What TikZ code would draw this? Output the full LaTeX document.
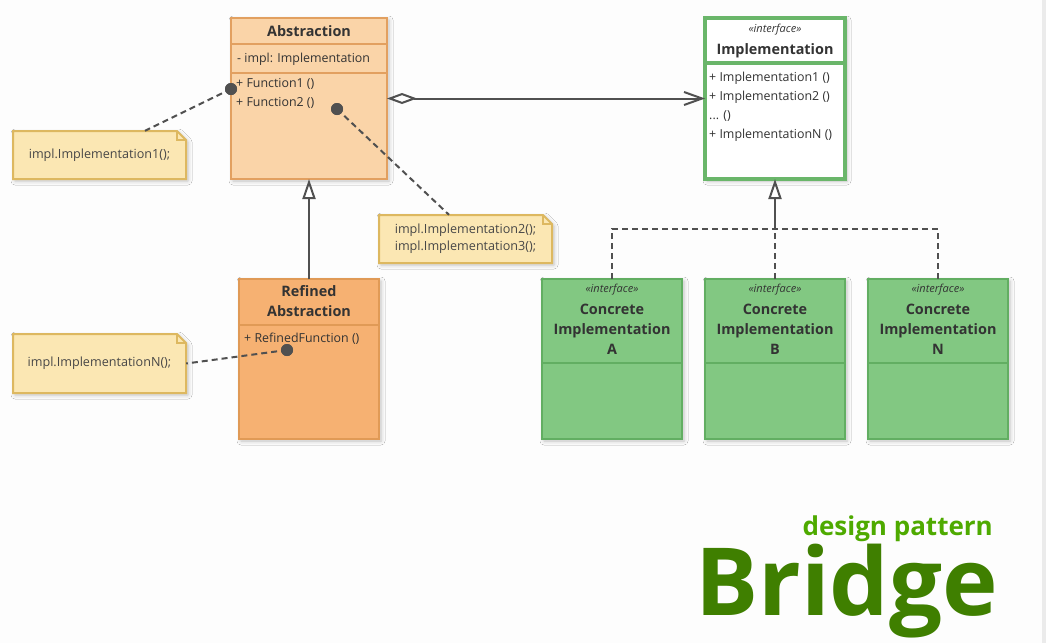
\documentclass[tikz,border=0pt]{standalone}
\usepackage{fontspec}
\setmainfont{Open Sans}
\usetikzlibrary{arrows.meta,shadows.blur,calc}
\definecolor{bgcol}{HTML}{FDFDFD}
\definecolor{edgecol}{HTML}{EBEBEB}
\definecolor{absfill}{HTML}{FAD4A8}
\definecolor{absline}{HTML}{E2A060}
\definecolor{reffill}{HTML}{F6B172}
\definecolor{refline}{HTML}{E09A56}
\definecolor{notefill}{HTML}{FBE7B3}
\definecolor{noteline}{HTML}{DDB860}
\definecolor{grfill}{HTML}{82C882}
\definecolor{grline}{HTML}{62AE62}
\definecolor{implline}{HTML}{6AB66A}
\definecolor{conncol}{HTML}{505050}
\definecolor{txtcol}{HTML}{333333}
\definecolor{dpcol}{HTML}{4EAA00}
\definecolor{brcol}{HTML}{3F7F00}
\newcommand\umlnote[6]{%
  \path[notebody] (#2,#3) -- ({#2+#4-9},#3) -- ({#2+#4},{#3+9}) -- ({#2+#4},{#3+#5}) -- (#2,{#3+#5}) -- cycle;
  \draw[noteborder] ({#2+#4-9},#3) -- ({#2+#4-9},{#3+9}) -- ({#2+#4},{#3+9});
  \node[notetxt, minimum width=#4pt, minimum height=#5pt] (#1) at ({#2+#4/2},{#3+#5/2}) {#6};
}
\begin{document}
\begin{tikzpicture}[x=1pt,y=-1pt,
  shade/.style={blur shadow={shadow xshift=2pt, shadow yshift=-2pt, shadow blur radius=4pt, shadow opacity=25}},
  box/.style={rectangle, anchor=north west, inner sep=0pt, outer sep=0pt, line width=2pt, shade},
  absbox/.style={box, fill=absfill, draw=absline},
  refbox/.style={box, fill=reffill, draw=refline},
  grbox/.style={box, fill=grfill, draw=grline},
  implbox/.style={box, fill=white, draw=implline, line width=3.5pt},
  notebody/.style={fill=notefill, draw=noteline, line width=2pt, shade},
  noteborder/.style={draw=noteline, line width=1.5pt},
  notetxt/.style={inner sep=0pt, font=\fontsize{12.6}{17}\selectfont, text=txtcol!90, align=center},
  txt/.style={inner sep=0pt, anchor=base west, font=\fontsize{12.4}{14}\selectfont, text=txtcol},
  head/.style={inner sep=0pt, anchor=base, font=\fontsize{14.4}{16}\selectfont\bfseries, text=txtcol},
  stereo/.style={inner sep=0pt, anchor=base, font=\fontsize{11}{12}\selectfont\itshape, text=txtcol},
  dot/.style={circle, fill=conncol, inner sep=0pt, minimum size=12pt},
  conn/.style={draw=conncol, line width=2pt},
  dashconn/.style={draw=conncol, line width=2pt, dash pattern=on 6pt off 4pt},
]
\useasboundingbox (0,0) rectangle (1046,643);
\fill[bgcol] (0,0) rectangle (1046,643);
\fill[edgecol] (1042,0) rectangle (1046,643);

% Abstraction
\node[absbox, minimum width=156pt, minimum height=161pt] (abs) at (231,18) {};
\draw[draw=absline, line width=2pt] (231,44) -- (387,44);
\draw[draw=absline, line width=2pt] (231,73) -- (387,73);
\node[head] (abshead) at (309,36) {Abstraction};
\node[txt] (absattr) at (237,62) {- impl: Implementation};
\node[txt] (absf1) at (236,87) {+ Function1 ()};
\node[txt] (absf2) at (236,106) {+ Function2 ()};

% Refined Abstraction
\node[refbox, minimum width=140pt, minimum height=160pt] (ref) at (239,279) {};
\draw[draw=refline, line width=2pt] (239,325) -- (379,325);
\node[head] (refh1) at (309,296) {Refined};
\node[head] (refh2) at (309,316) {Abstraction};
\node[txt] (reff) at (244,342) {+ RefinedFunction ()};

% Implementation interface
\node[implbox, minimum width=140pt, minimum height=161pt] (impl) at (705,18) {};
\draw[draw=implline, line width=3.5pt] (705,63) -- (845,63);
\node[stereo] (implst) at (775,32) {«interface»};
\node[head] (implh) at (775,54) {Implementation};
\node[txt] (impl1) at (709,81) {+ Implementation1 ()};
\node[txt] (impl2) at (709,100) {+ Implementation2 ()};
\node[txt] (impl3) at (709,119) {... ()};
\node[txt] (impl4) at (709,138) {+ ImplementationN ()};

% Concrete implementations
\node[grbox, minimum width=140pt, minimum height=160pt] (cA) at (542,279) {};
\node[grbox, minimum width=140pt, minimum height=160pt] (cB) at (705,279) {};
\node[grbox, minimum width=140pt, minimum height=160pt] (cN) at (868,279) {};
\foreach \xx/\nm/\lt in {542/A/A, 705/B/B, 868/N/N}{
  \draw[draw=grline, line width=2pt] (\xx,363) -- (\xx+140,363);
  \node[stereo] (st\nm) at (\xx+70,292) {«interface»};
  \node[head] (h1\nm) at (\xx+70,314) {Concrete};
  \node[head] (h2\nm) at (\xx+70,334) {Implementation};
  \node[head] (h3\nm) at (\xx+70,354) {\lt};
}

% Notes
\umlnote{n1}{13}{131}{173}{48}{impl.Implementation1();}
\umlnote{n2}{379}{215}{173}{48}{impl.Implementation2();\\impl.Implementation3();}
\umlnote{n3}{13}{334}{173}{59}{impl.ImplementationN();}

% Dots and note links
\node[dot] (d1) at (231,89) {};
\node[dot] (d2) at (337,109) {};
\node[dot] (d3) at (287,350) {};
\draw[dashconn] (d1.center) -- ([xshift=45.5pt]n1.north);
\draw[dashconn] (d2.center) -- ([xshift=-16.5pt]n2.north);
\draw[dashconn] (d3.center) -- (n3.east);
\node[dot] at (d1) {};
\node[dot] at (d2) {};
\node[dot] at (d3) {};

% Aggregation
\draw[conn, {Diamond[open, length=30pt, width=11pt, line width=2pt]}-{Straight Barb[length=18pt, width=13pt, line width=2pt]}] (abs.east) -- (impl.west);

% Inheritance
\draw[conn, -{Triangle[open, length=20pt, width=13pt, line width=2pt, fill=white]}] (ref.north) -- (abs.south);

% Realization
\coordinate (junc) at (775,229);
\draw[conn, -{Triangle[open, length=20pt, width=13pt, line width=2pt, fill=white]}] (junc) -- (impl.south);
\draw[dashconn] (cA.north) |- (junc) -| (cN.north);
\draw[dashconn] (cB.north) -- (junc);

% Title
\node[inner sep=0pt, anchor=base east, font=\fontsize{26}{30}\selectfont\bfseries, text=dpcol] (dp) at (993,535) {design pattern};
\node[inner sep=0pt, anchor=base east, font=\fontsize{94}{100}\selectfont\bfseries, text=brcol] (br) at (998,615) {Bridge};
\end{tikzpicture}
\end{document}
